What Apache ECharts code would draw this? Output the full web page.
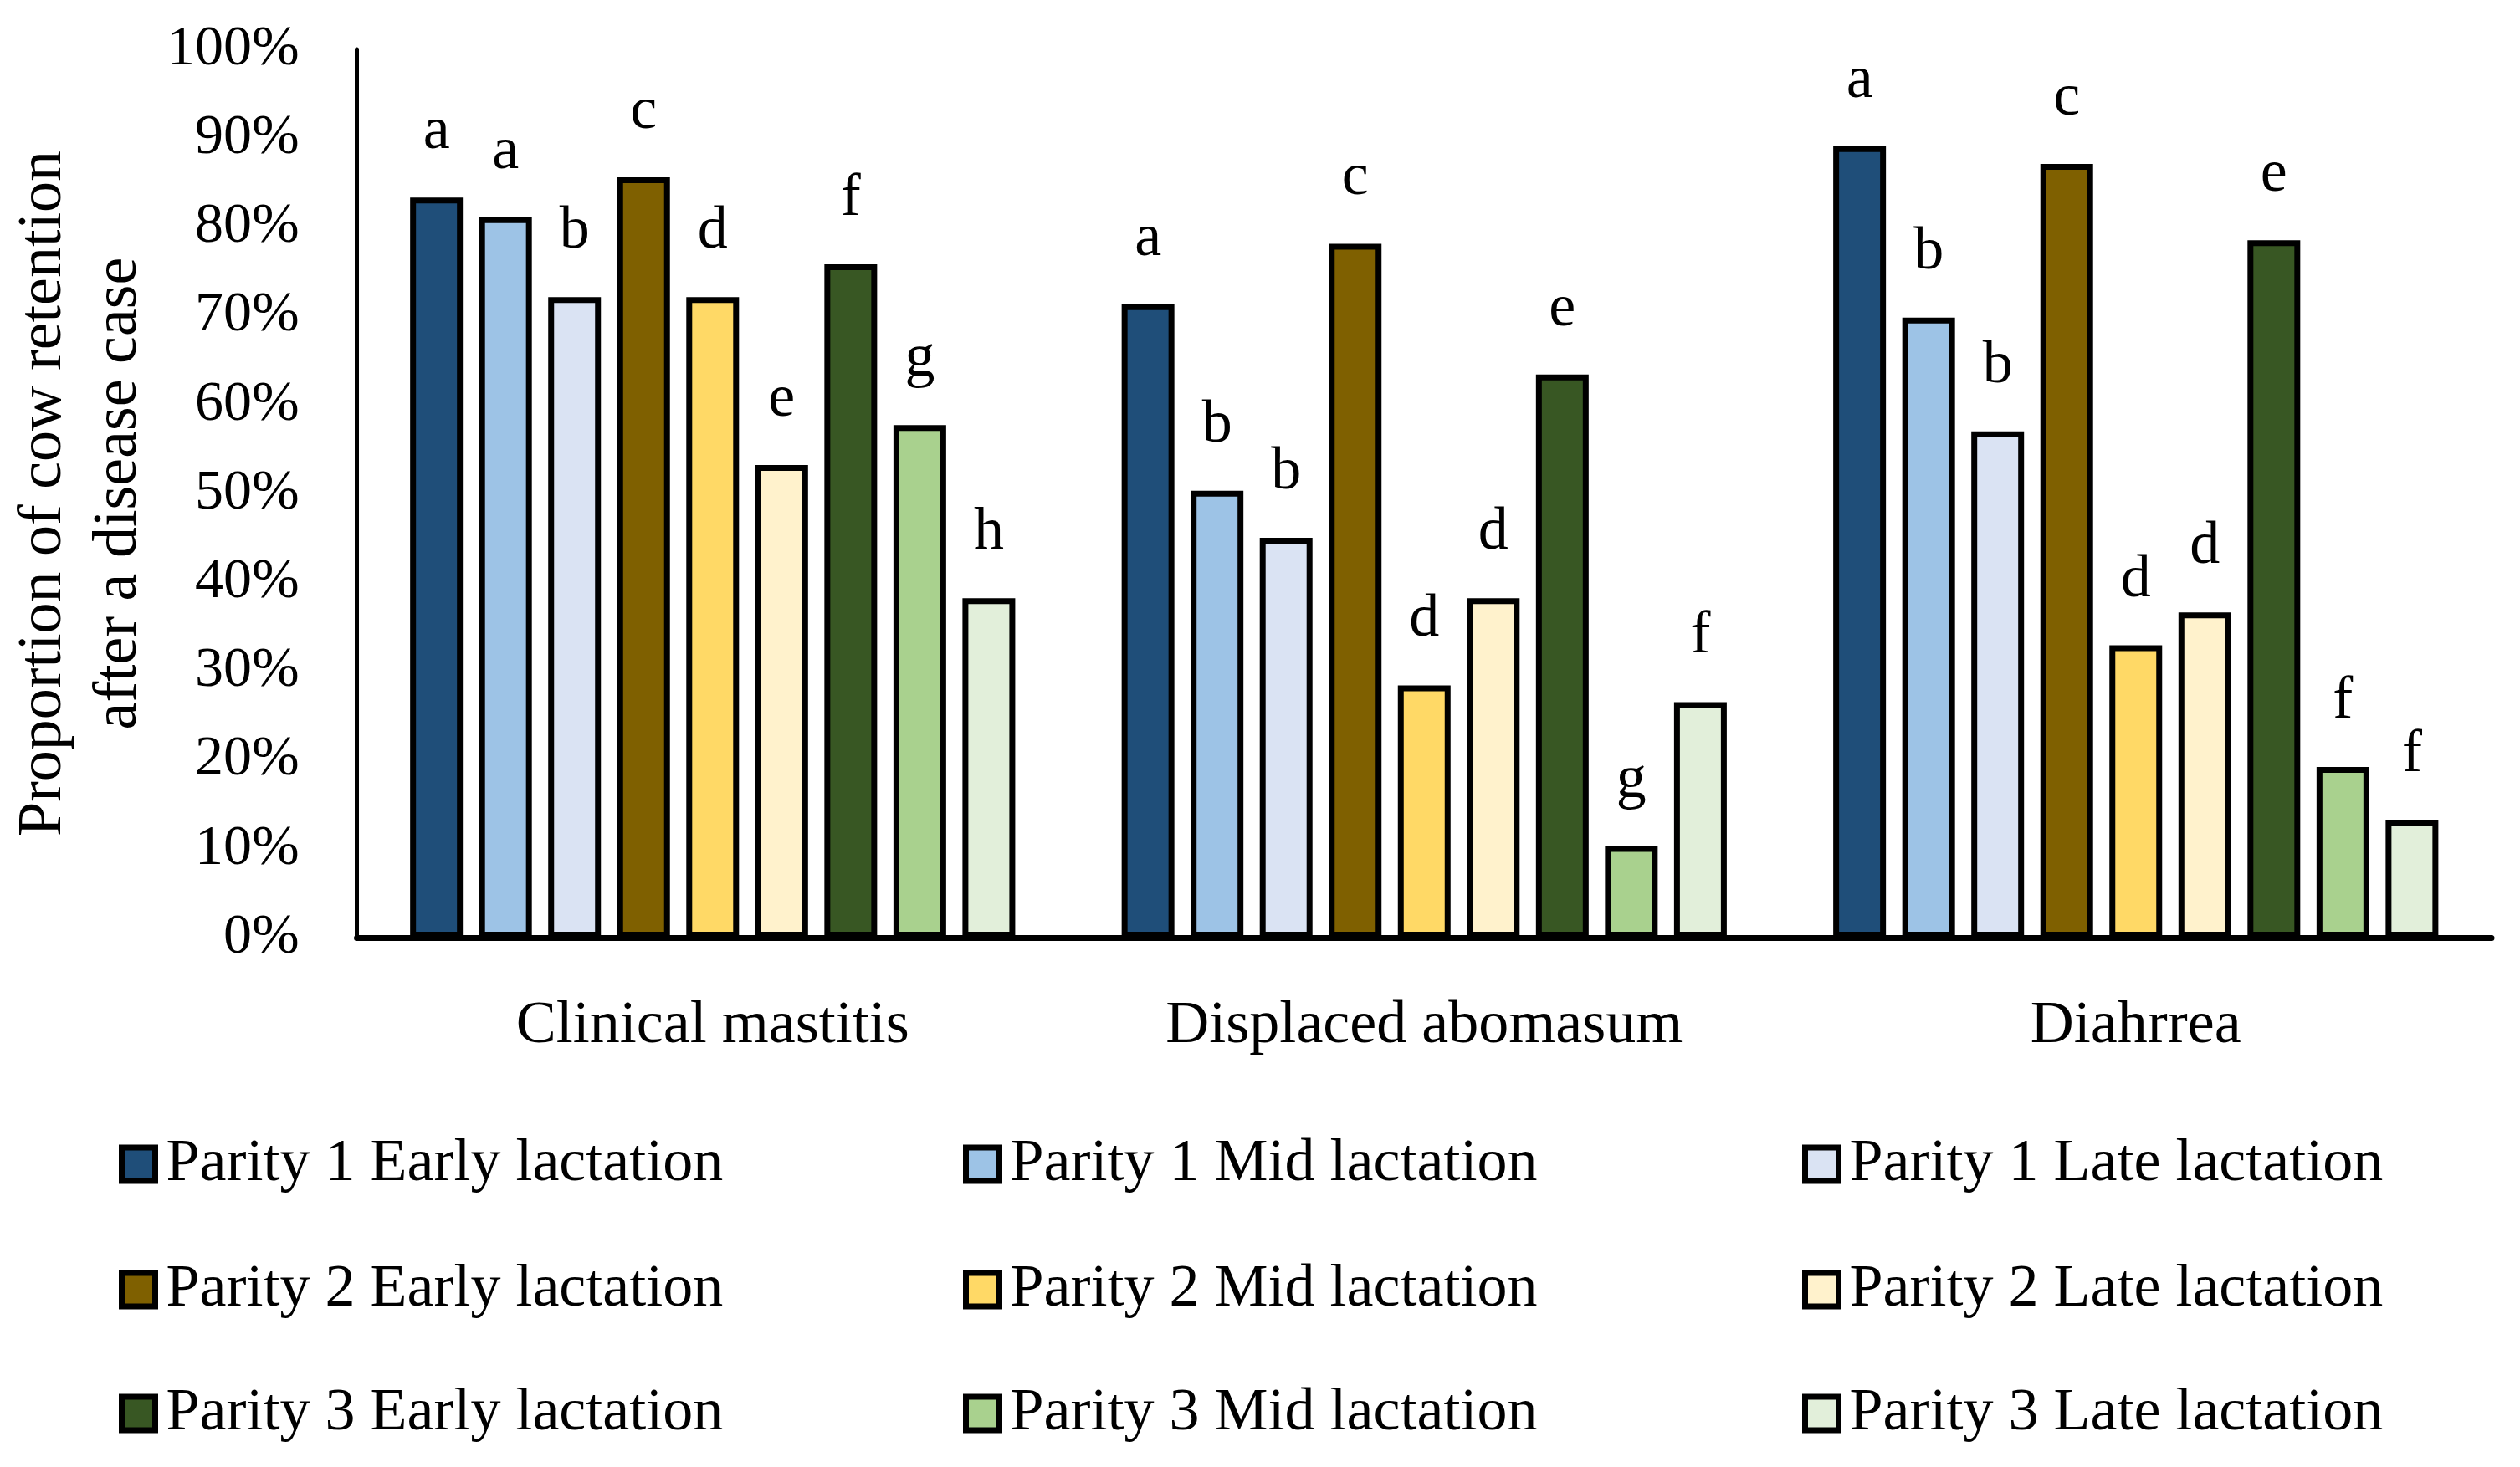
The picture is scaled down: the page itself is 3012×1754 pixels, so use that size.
<!DOCTYPE html>
<html>
<head>
<meta charset="utf-8">
<script src="https://cdn.jsdelivr.net/npm/echarts@6/dist/echarts.min.js"></script>
<style>
html,body{margin:0;padding:0;background:#fff;}
#chart{width:3012px;height:1754px;}
</style>
</head>
<body>
<div id="chart"></div>
<script>
// ---- data ----
const categories = ['Clinical mastitis', 'Displaced abomasum', 'Diahrrea'];
const seriesNames = [
  'Parity 1 Early lactation', 'Parity 1 Mid lactation', 'Parity 1 Late lactation',
  'Parity 2 Early lactation', 'Parity 2 Mid lactation', 'Parity 2 Late lactation',
  'Parity 3 Early lactation', 'Parity 3 Mid lactation', 'Parity 3 Late lactation'
];
const p1Early = [83.3, 71.3, 89.1];
const p1Mid   = [81.1, 50.3, 69.8];
const p1Late  = [72.1, 45.0, 57.0];
const p2Early = [85.6, 78.1, 87.1];
const p2Mid   = [72.1, 28.4, 32.9];
const p2Late  = [53.2, 38.2, 36.6];
const p3Early = [75.8, 63.4, 78.5];
const p3Mid   = [57.7, 10.3, 19.2];
const p3Late  = [38.2, 26.5, 13.2];

const p1EarlyLetters = ['a', 'a', 'a'];
const p1MidLetters   = ['a', 'b', 'b'];
const p1LateLetters  = ['b', 'b', 'b'];
const p2EarlyLetters = ['c', 'c', 'c'];
const p2MidLetters   = ['d', 'd', 'd'];
const p2LateLetters  = ['e', 'd', 'd'];
const p3EarlyLetters = ['f', 'e', 'e'];
const p3MidLetters   = ['g', 'g', 'f'];
const p3LateLetters  = ['h', 'f', 'f'];

const yTicks = [0, 10, 20, 30, 40, 50, 60, 70, 80, 90, 100];

const seriesValues = [p1Early, p1Mid, p1Late, p2Early, p2Mid, p2Late, p3Early, p3Mid, p3Late];
const seriesLetters = [p1EarlyLetters, p1MidLetters, p1LateLetters, p2EarlyLetters, p2MidLetters,
  p2LateLetters, p3EarlyLetters, p3MidLetters, p3LateLetters];
const colors = ['#1F4E79', '#9DC3E6', '#DAE3F3', '#7F6000', '#FFD966', '#FFF2CC', '#385723', '#A9D18E', '#E2EFDA'];

// ---- chart ----
const FONT = 'Liberation Serif';
const chart = echarts.init(document.getElementById('chart'), null, {renderer: 'canvas'});

const series = seriesNames.map((name, i) => ({
  name: name,
  type: 'bar',
  data: seriesValues[i],
  barWidth: 63,
  barGap: '31%',
  itemStyle: {color: colors[i], borderColor: '#000', borderWidth: 7},
  label: {
    show: true,
    position: 'top',
    distance: 42,
    color: '#000',
    fontFamily: FONT,
    fontSize: 72,
    formatter: p => seriesLetters[p.seriesIndex][p.dataIndex]
  },
  emphasis: {disabled: true}
}));

const colLefts = [137, 1146, 2149];
const rowTops = [1351, 1501, 1649];
const legends = seriesNames.map((name, i) => ({
  orient: 'horizontal',
  left: colLefts[i % 3],
  top: rowTops[Math.floor(i / 3)],
  icon: 'rect',
  itemWidth: 40,
  itemHeight: 40,
  data: [name],
  itemStyle: {borderColor: '#000', borderWidth: 7},
  textStyle: {fontFamily: FONT, fontSize: 72, color: '#000', lineHeight: 40, padding: [0, 0, 0, 8]},
  selectedMode: false
}));

chart.setOption({
  backgroundColor: '#fff',
  animation: false,
  color: colors,
  textStyle: {fontFamily: FONT},
  grid: {left: 426, right: 34, top: 59, bottom: 633, containLabel: false},
  legend: legends,
  xAxis: {
    type: 'category',
    data: categories,
    axisLine: {show: true, lineStyle: {color: '#000', width: 7}},
    axisTick: {show: false},
    axisLabel: {fontFamily: FONT, fontSize: 72, color: '#000', margin: 70}
  },
  yAxis: {
    type: 'value',
    min: 0,
    max: 100,
    interval: 10,
    name: 'Proportion of cow retention\nafter a disease case',
    nameLocation: 'middle',
    nameGap: 237,
    nameTextStyle: {fontFamily: FONT, fontSize: 74, color: '#000', lineHeight: 90, align: 'center'},
    axisLine: {show: true, lineStyle: {color: '#000', width: 5}},
    axisTick: {show: false},
    splitLine: {show: false},
    axisLabel: {
      fontFamily: FONT, fontSize: 68, color: '#000', margin: 69,
      formatter: v => (yTicks.indexOf(v) >= 0 ? v + '%' : '')
    }
  },
  series: series
});
</script>
</body>
</html>
